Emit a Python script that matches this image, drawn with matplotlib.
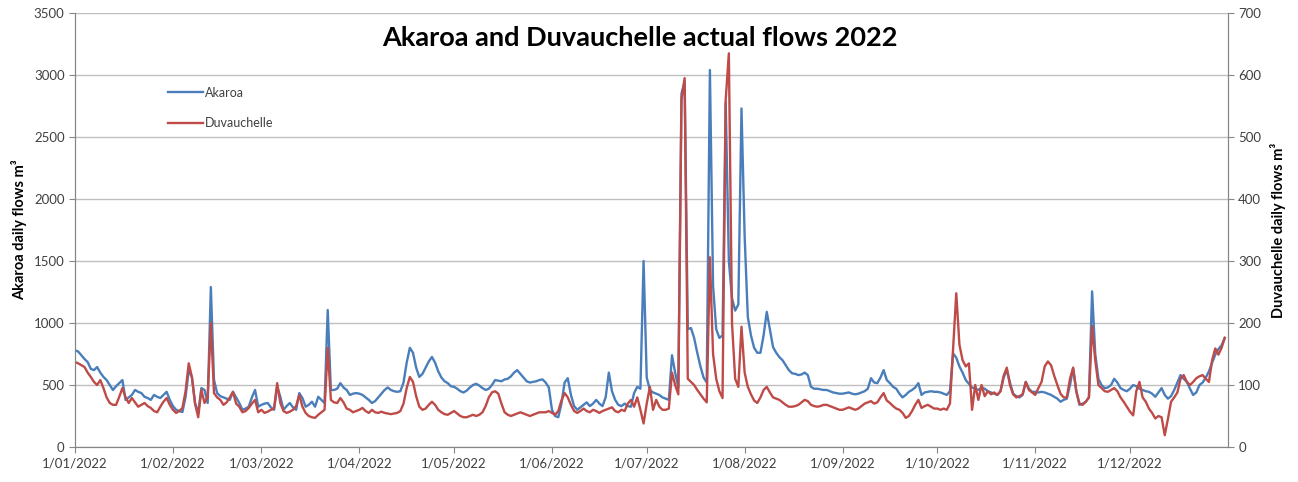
import numpy as np
import pandas as pd
import matplotlib
matplotlib.use('Agg')
import matplotlib.pyplot as plt

plt.rcParams['font.family'] = ['Lato', 'DejaVu Sans']

# daily flows 2022, Akaroa (m3) by month
jan_a = [780, 770, 740, 710, 685, 630, 620, 645, 600, 565, 540, 500, 460, 490, 515, 540,
         380, 400, 420, 460, 445, 435, 405, 395, 380, 420, 405, 395, 420, 445, 380]
feb_a = [330, 300, 290, 282, 405, 620, 565, 355, 274, 475, 460, 355, 1290, 540, 435, 410,
         400, 390, 380, 445, 400, 355, 300, 310, 325, 400, 460, 325]
mar_a = [340, 350, 355, 320, 300, 485, 405, 300, 330, 355, 320, 300, 435, 395, 325, 340,
         365, 325, 405, 380, 355, 1105, 460, 460, 470, 515, 480, 460, 420, 430, 435]
apr_a = [430, 420, 400, 380, 355, 370, 400, 430, 460, 480, 460, 450, 445, 450, 520, 680,
         800, 760, 640, 565, 590, 640, 690, 726, 680, 610, 560, 530, 515, 490]
may_a = [485, 470, 450, 440, 455, 480, 500, 510, 495, 475, 460, 470, 500, 540, 535, 530,
         545, 550, 570, 600, 620, 590, 560, 530, 520, 525, 530, 540, 545, 520, 480]
jun_a = [300, 250, 240, 350, 520, 555, 420, 330, 300, 320, 340, 360, 330, 350, 380, 350,
         330, 400, 600, 450, 380, 340, 330, 350, 330, 325, 435, 485, 470, 1500]
jul_a = [560, 460, 440, 430, 420, 400, 390, 380, 740, 600, 480, 2850, 2950, 950, 960, 880,
         760, 650, 560, 520, 3040, 1300, 950, 880, 900, 2780, 1500, 1200, 1100, 1150, 2730]
aug_a = [1700, 1050, 900, 800, 760, 760, 900, 1090, 950, 805, 760, 725, 700, 660, 620, 595,
         590, 580, 585, 600, 580, 485, 470, 470, 465, 460, 460, 450, 440, 435, 430]
sep_a = [430, 435, 440, 430, 425, 430, 440, 450, 470, 555, 520, 515, 560, 620, 540, 515,
         485, 470, 430, 400, 420, 445, 460, 480, 515, 420, 440, 445, 450, 445]
oct_a = [445, 440, 430, 420, 450, 755, 720, 650, 600, 540, 510, 480, 470, 460, 480, 470,
         450, 440, 430, 420, 450, 560, 620, 520, 430, 410, 400, 420, 525, 470, 445]
nov_a = [445, 440, 445, 440, 430, 420, 405, 390, 365, 380, 390, 500, 635, 450, 340, 350,
         365, 400, 1255, 750, 550, 500, 475, 480, 500, 550, 520, 475, 460, 450]
dec_a = [470, 500, 490, 470, 460, 450, 445, 430, 405, 440, 475, 420, 390, 410, 460, 520,
         580, 550, 525, 470, 420, 440, 500, 520, 560, 610, 680, 745, 790, 820, 880]

# daily flows 2022, Duvauchelle (m3) by month
jan_d = [137, 135, 132, 129, 120, 113, 105, 100, 108, 95, 80, 71, 68, 68, 81, 95,
         80, 71, 79, 72, 65, 68, 71, 66, 63, 58, 56, 65, 73, 79, 68]
feb_d = [60, 55, 58, 63, 90, 135, 113, 70, 48, 92, 71, 81, 200, 87, 80, 76,
         68, 72, 80, 89, 70, 65, 56, 58, 63, 70, 76, 56]
mar_d = [60, 55, 57, 60, 62, 103, 71, 58, 55, 57, 60, 66, 84, 65, 55, 50,
         48, 47, 52, 56, 60, 160, 76, 72, 71, 79, 72, 62, 60, 56, 58]
apr_d = [60, 63, 58, 55, 60, 56, 55, 57, 55, 54, 53, 54, 55, 58, 70, 95,
         113, 105, 82, 65, 60, 62, 68, 73, 68, 60, 56, 53, 52, 55]
may_d = [58, 54, 50, 48, 48, 50, 52, 50, 52, 56, 66, 80, 88, 90, 86, 70,
         56, 52, 50, 52, 54, 56, 54, 52, 50, 52, 54, 56, 56, 56, 58]
jun_d = [55, 52, 58, 75, 87, 80, 68, 58, 55, 58, 62, 58, 56, 60, 58, 55,
         58, 60, 62, 64, 58, 56, 60, 58, 70, 76, 65, 80, 60, 38]
jul_d = [70, 97, 60, 76, 65, 60, 60, 62, 120, 100, 85, 560, 595, 110, 105, 100,
         92, 85, 78, 72, 306, 150, 110, 90, 79, 560, 635, 200, 110, 97, 194]
aug_d = [120, 97, 85, 75, 71, 80, 92, 97, 88, 80, 78, 76, 72, 68, 65, 65,
         66, 68, 72, 76, 74, 68, 66, 65, 66, 68, 68, 66, 64, 62, 60]
sep_d = [60, 62, 64, 62, 60, 62, 66, 70, 72, 74, 70, 72, 80, 87, 75, 71,
         66, 62, 60, 55, 47, 50, 58, 68, 76, 63, 66, 68, 65, 62]
oct_d = [62, 60, 62, 60, 70, 160, 248, 165, 140, 130, 135, 60, 100, 76, 100, 82,
         90, 85, 88, 84, 90, 115, 128, 100, 85, 80, 82, 85, 105, 92, 88]
nov_d = [84, 95, 105, 130, 138, 132, 115, 100, 86, 80, 80, 110, 128, 90, 70, 68,
         73, 80, 195, 140, 100, 95, 90, 89, 92, 95, 90, 80, 73, 65]
dec_d = [57, 51, 90, 105, 80, 73, 62, 55, 46, 50, 48, 19, 45, 73, 80, 88,
         110, 116, 105, 100, 105, 111, 114, 116, 110, 105, 140, 159, 149, 160, 176]

akaroa = np.concatenate([jan_a, feb_a, mar_a, apr_a, may_a, jun_a,
                         jul_a, aug_a, sep_a, oct_a, nov_a, dec_a])
duvauchelle = np.concatenate([jan_d, feb_d, mar_d, apr_d, may_d, jun_d,
                              jul_d, aug_d, sep_d, oct_d, nov_d, dec_d])
dates = pd.date_range('2022-01-01', '2022-12-31', freq='D')

blue = '#4A7EBB'
red = '#BE4B48'
grid_col = '#BFBFBF'
axis_col = '#868686'
text_col = '#404040'

fig, ax = plt.subplots(figsize=(12.98, 4.82), dpi=100)
fig.subplots_adjust(left=0.0578, right=0.946, bottom=0.0726, top=0.973)
ax2 = ax.twinx()

l1, = ax.plot(dates, akaroa, color=blue, lw=1.7, label='Akaroa')
l2, = ax2.plot(dates, duvauchelle, color=red, lw=1.7, label='Duvauchelle')

ax.set_ylim(0, 3500)
ax.set_yticks(np.arange(0, 3501, 500))
ax2.set_ylim(0, 700)
ax2.set_yticks(np.arange(0, 701, 100))
ax.set_xlim(pd.Timestamp('2022-01-01'), pd.Timestamp('2023-01-01'))

months = pd.date_range('2022-01-01', periods=12, freq='MS')
ax.set_xticks(months)
ax.set_xticklabels([f'{d.day}/{d.month:02d}/{d.year}' for d in months])

ax.yaxis.grid(True, color=grid_col, lw=1)
ax.set_axisbelow(True)

for a in (ax, ax2):
    a.spines['top'].set_visible(False)
    for s in ('left', 'right', 'bottom'):
        a.spines[s].set_color(axis_col)
    a.tick_params(colors=axis_col, labelcolor=text_col, labelsize=9.5, length=4)

ax.set_ylabel('Akaroa daily flows m³', fontsize=10.5, fontweight='bold', color='black', labelpad=5)
ax2.set_ylabel('Duvauchelle daily flows m³', fontsize=10.5, fontweight='bold', color='black',
               rotation=90, labelpad=6)

ax.text(0.49, 0.942, 'Akaroa and Duvauchelle actual flows 2022', transform=ax.transAxes,
        ha='center', va='center', fontsize=19.5, fontweight='bold', color='black')

ax2.legend([l1, l2], ['Akaroa', 'Duvauchelle'], loc='upper left', bbox_to_anchor=(0.075, 0.845),
           frameon=False, fontsize=9, handlelength=2.8, handletextpad=0.2,
           labelspacing=1.5, borderpad=0, labelcolor=text_col)

fig.savefig('out.png', dpi=100)
plt.close()
